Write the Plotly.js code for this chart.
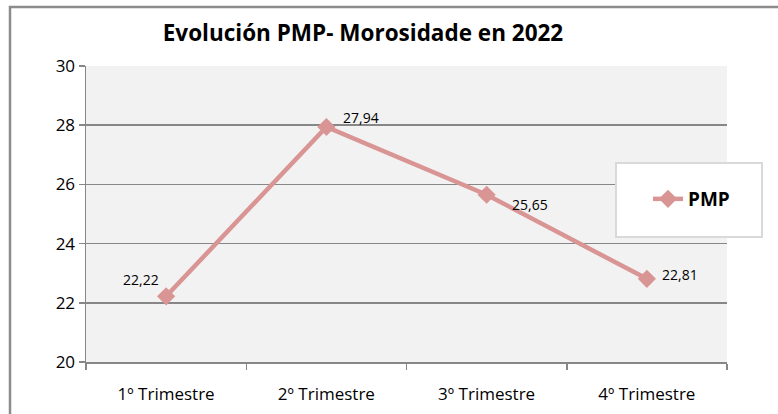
<!DOCTYPE html>
<html>
<head>
<meta charset="utf-8">
<script src="https://cdn.plot.ly/plotly-3.0.1.min.js"></script>
<style>html,body{margin:0;padding:0;background:#fff;}#chart{width:778px;height:414px;}</style>
</head>
<body>
<div id="chart"></div>
<script>
const categories = ['1º Trimestre', '2º Trimestre', '3º Trimestre', '4º Trimestre'];
const pmpValues = [22.22, 27.94, 25.65, 22.81];
const pointLabels = pmpValues.map(v => v.toFixed(2).replace('.', ','));
const yTicks = [20, 22, 24, 26, 28, 30];

const FONT = '"Open Sans", "Noto Sans", sans-serif';
const lineColor = '#d99594';

// label offsets (pixels) relative to each point
const labelShiftX = [-25, 35, 43, 33];
const labelShiftY = [17, 9, -10, 4];

const trace = {
  type: 'scatter',
  mode: 'lines+markers',
  name: 'PMP',
  x: categories,
  y: pmpValues,
  line: {color: lineColor, width: 4.5},
  marker: {symbol: 'diamond', size: 14, color: lineColor},
  cliponaxis: false
};

const L = 86, R = 727, T = 66, B = 362;
const W = R - L, H = B - T;
const px = x => (x - L) / W;
const py = y => (B - y) / H;

const annotations = categories.map((c, i) => ({
  x: c, y: pmpValues[i], xref: 'x', yref: 'y',
  text: pointLabels[i], showarrow: false,
  xanchor: 'center', yanchor: 'middle',
  xshift: labelShiftX[i], yshift: labelShiftY[i],
  font: {family: FONT, size: 14, color: '#000'}
}));

const layout = {
  width: 778, height: 414,
  margin: {l: L, r: 778 - R, t: T, b: 414 - B},
  paper_bgcolor: '#ffffff',
  plot_bgcolor: '#f2f2f2',
  font: {family: FONT, size: 16, color: '#000'},
  title: {
    text: '<b>Evolución PMP- Morosidade en 2022</b>',
    font: {family: FONT, size: 22.5, color: '#000'},
    x: 363 / 778, xanchor: 'center', xref: 'container',
    y: 1 - 33 / 414, yanchor: 'middle', yref: 'container'
  },
  xaxis: {
    type: 'category',
    range: [-0.5, 3.5],
    showgrid: false,
    showline: true, linecolor: '#878787', linewidth: 1.5,
    ticks: 'outside', tickson: 'boundaries', ticklen: 6, tickcolor: '#878787', tickwidth: 1.5,
    tickfont: {family: FONT, size: 17, color: '#000'},
    ticklabelstandoff: 16,
    zeroline: false, fixedrange: true
  },
  yaxis: {
    range: [20, 30],
    tickvals: yTicks,
    ticktext: yTicks.map(String),
    showgrid: true, gridcolor: '#878787', gridwidth: 1.5,
    showline: true, linecolor: '#878787', linewidth: 1.5,
    ticks: 'outside', ticklen: 6, tickcolor: '#878787', tickwidth: 1.5,
    tickfont: {family: FONT, size: 17, color: '#000'},
    zeroline: false, fixedrange: true
  },
  showlegend: true,
  legend: {
    x: px(648), y: py(199), xanchor: 'left', yanchor: 'middle',
    bgcolor: 'rgba(0,0,0,0)', borderwidth: 0,
    font: {family: FONT, size: 19, color: '#000', weight: 'bold'},
    itemwidth: 30
  },
  annotations: annotations,
  shapes: [
    {type: 'rect', xref: 'paper', yref: 'paper', layer: 'above',
     x0: px(616), x1: px(762), y0: py(237), y1: py(163),
     fillcolor: '#ffffff', line: {color: '#d9d9d9', width: 2}},
    {type: 'rect', xref: 'paper', yref: 'paper', layer: 'below',
     x0: px(10), x1: px(790), y0: py(430), y1: py(7),
     fillcolor: 'rgba(0,0,0,0)', line: {color: '#8c8c8c', width: 2.5}}
  ]
};

Plotly.newPlot('chart', [trace], layout, {displayModeBar: false, staticPlot: true});
</script>
</body>
</html>
